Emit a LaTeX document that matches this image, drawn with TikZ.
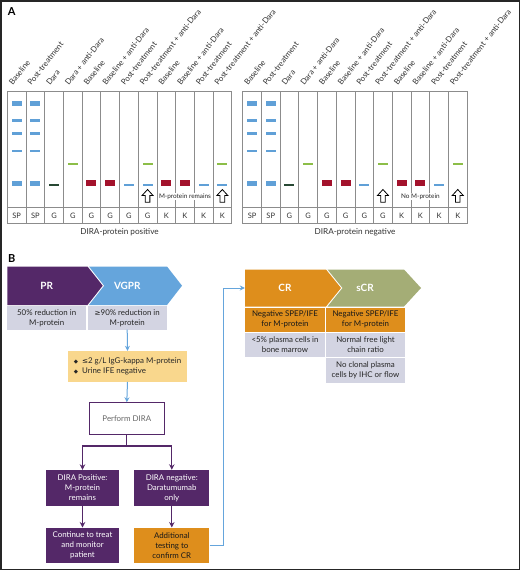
\documentclass[tikz,border=0pt]{standalone}
\usepackage{fontspec}
\setmainfont{Lato}
\newfontfamily\symf{DejaVu Sans}
\usetikzlibrary{arrows.meta}
\definecolor{dpurple}{RGB}{84,40,104}
\definecolor{vblue}{RGB}{101,165,220}
\definecolor{bandblue}{RGB}{96,160,215}
\definecolor{orng}{RGB}{222,142,28}
\definecolor{sgreen}{RGB}{164,173,118}
\definecolor{lgray}{RGB}{211,212,226}
\definecolor{lyellow}{RGB}{249,215,141}
\definecolor{bred}{RGB}{163,18,44}
\definecolor{bgreen}{RGB}{140,190,72}
\definecolor{dgreen}{RGB}{40,72,52}
\newcommand\gband[4]{\fill[#3] ({#1-5},{#2-#4/2}) rectangle ++(10,#4);}
\newcommand\harrow[1]{\draw[black,line width=0.8pt,fill=white,line join=miter] ({#1},189.5) -- ++(5.5,6) -- ++(-3.2,0) -- ++(0,6.8) -- ++(-4.6,0) -- ++(0,-6.8) -- ++(-3.2,0) -- cycle;}
\tikzset{
 gelline/.style={draw=black!45, line width=0.8pt},
 collab/.style={anchor=base west, rotate=52, inner sep=0pt, font=\fontsize{7.9}{10}\selectfont, text=black!80},
 rowlab/.style={inner sep=0pt, font=\fontsize{7.5}{9}\selectfont, text=black!80},
 sublab/.style={inner sep=0pt, font=\fontsize{8.2}{10}\selectfont, text=black!80},
 panlab/.style={inner sep=0pt, font=\fontsize{11}{12}\selectfont\bfseries},
 chev/.style={text=white, font=\fontsize{10}{12}\selectfont\bfseries, inner sep=0pt},
 fbox/.style={align=center, inner sep=1pt, font=\fontsize{7.9}{10}\selectfont},
 graybox/.style={fbox, fill=lgray, text=black!85},
 orbox/.style={fbox, fill=orng, text=black!90},
 purbox/.style={fbox, fill=dpurple, text=white},
 minilab/.style={inner sep=0.6pt, fill=white, font=\fontsize{6.4}{7}\selectfont, text=black!85},
 blueline/.style={draw=vblue, line width=1pt, -{Stealth[length=5pt,width=5pt]}},
 purline/.style={draw=dpurple, line width=1.3pt, -{Stealth[length=5.5pt,width=5.5pt]}},
 plainpur/.style={draw=dpurple, line width=1.3pt},
}
\begin{document}
\begin{tikzpicture}[x=1pt,y=-1pt]
\useasboundingbox (0,0) rectangle (520,570);
\fill[white] (0,0) rectangle (520,570);
\draw[black!85, line width=1.5pt] (0.75,0.75) rectangle (519.25,569.25);
\node[panlab] (la) at (11.7,11.7) {A};
\node[panlab] (lb) at (11.7,258.3) {B};
% ---------- gels ----------
\foreach \bx/\nm in {7.3/p, 242.7/n} {
  \draw[gelline] (\bx,91) rectangle ++(224.4,132.3);
  \draw[gelline] (\bx,207.7) -- ++(224.4,0);
  \foreach \i in {1,...,11} {\draw[gelline] ({\bx+\i*18.7},91) -- ++(0,132.3);}
  \foreach \i/\t/\l in {1/Baseline/SP, 2/Post-treatment/SP, 3/Dara/G, 4/Dara + anti-Dara/G, 5/Baseline/G, 6/Baseline + anti-Dara/G, 7/Post-treatment/G, 8/Post-treatment + anti-Dara/G, 9/Baseline/K, 10/Baseline + anti-Dara/K, 11/Post-treatment/K, 12/Post-treatment + anti-Dara/K} {
    \node[collab] (t\nm\i) at ({\bx+(\i-0.5)*18.7-4},86) {\t};
    \node[rowlab] (r\nm\i) at ({\bx+(\i-0.5)*18.7},215.5) {\l};
  }
  \foreach \i in {1,2} {
    \gband{\bx+(\i-0.5)*18.7}{103.3}{bandblue}{5.6}
    \gband{\bx+(\i-0.5)*18.7}{120.5}{bandblue}{2.3}
    \gband{\bx+(\i-0.5)*18.7}{133.4}{bandblue}{2.3}
    \gband{\bx+(\i-0.5)*18.7}{150.7}{bandblue}{2.3}
    \gband{\bx+(\i-0.5)*18.7}{183.3}{bandblue}{5.6}
  }
  \gband{\bx+2.5*18.7}{184.8}{dgreen}{2.3}
  \foreach \i in {4,8,12} {\gband{\bx+(\i-0.5)*18.7}{164.2}{bgreen}{2.3}}
  \foreach \i in {5,6,9,10} {\gband{\bx+(\i-0.5)*18.7}{183.3}{bred}{6.3}}
  \foreach \i in {7,11} {\gband{\bx+(\i-0.5)*18.7}{184.8}{bandblue}{2.3}}
  \harrow{\bx+7.5*18.7}
  \harrow{\bx+11.5*18.7}
}
\gband{7.3+7.5*18.7}{184.8}{bandblue}{2.3}
\gband{7.3+11.5*18.7}{184.8}{bandblue}{2.3}
\node[minilab] (mrem) at (185,196.7) {M-protein remains};
\node[minilab] (nomp) at (420.4,196.7) {No M-protein};
\node[sublab] (subp) at (119.5,232.3) {DIRA-protein positive};
\node[sublab] (subn) at (355,232.3) {DIRA-protein negative};
% ---------- chevrons ----------
\fill[vblue] (89,266.5) -- (167,266.5) -- (182,285.7) -- (167,305) -- (89,305) -- (104.2,285.7) -- cycle;
\fill[dpurple] (7.3,266.5) -- (87.5,266.5) -- (102.7,285.7) -- (87.5,305) -- (7.3,305) -- cycle;
\fill[sgreen] (327.5,269.5) -- (404,269.5) -- (421,288) -- (404,306.5) -- (327.5,306.5) -- (342.5,288) -- cycle;
\fill[orng] (245,269.5) -- (326,269.5) -- (341,288) -- (326,306.5) -- (245,306.5) -- cycle;
\node[chev] (pr) at (46.7,285.7) {PR};
\node[chev] (vgpr) at (127.3,285.7) {VGPR};
\node[chev, minimum width=80pt, minimum height=37pt] (cr) at (285,288) {CR};
\node[chev] (scr) at (365,288) {sCR};
% ---------- boxes ----------
\node[graybox, minimum width=78.7pt, minimum height=23.3pt] (g1) at (46.65,317.85) {50\% reduction in\\M-protein};
\node[graybox, minimum width=79pt, minimum height=23.3pt] (g2) at (127.2,317.85) {{\symf\fontsize{7.2}{9}\selectfont ≥}90\% reduction in\\M-protein};
\node[orbox, minimum width=80pt, minimum height=24.2pt] (o1) at (285,319.6) {Negative SPEP/IFE\\for M-protein};
\node[orbox, minimum width=79pt, minimum height=24.2pt] (o2) at (365.5,319.6) {Negative SPEP/IFE\\for M-protein};
\node[graybox, minimum width=80pt, minimum height=23.7pt] (g3) at (285,344.85) {<5\% plasma cells in\\bone marrow};
\node[graybox, minimum width=79pt, minimum height=23.7pt] (g4) at (365.5,344.85) {Normal free light\\chain ratio};
\node[graybox, minimum width=79pt, minimum height=24.4pt] (g5) at (365.5,370.5) {No clonal plasma\\cells by IHC or flow};
\node[fbox, fill=lyellow, text=black!85, align=left, minimum width=118.4pt, minimum height=30.7pt] (yel) at (127.5,366.35) {{\symf\fontsize{5.5}{9}\selectfont ◆}\hspace{4pt}{\symf\fontsize{7.2}{9}\selectfont ≤}2 g/L IgG-kappa M-protein\\{\symf\fontsize{5.5}{9}\selectfont ◆}\hspace{4pt}Urine IFE negative};
\node[fbox, draw=dpurple, line width=0.9pt, fill=white, text=black!60, minimum width=75pt, minimum height=31.3pt] (dira) at (126.8,418.35) {Perform DIRA};
\node[purbox, minimum width=73.6pt, minimum height=36pt] (pos) at (82.5,488) {DIRA Positive:\\M-protein\\remains};
\node[purbox, minimum width=75pt, minimum height=36pt] (neg) at (171.8,488) {DIRA negative:\\Daratumumab\\only};
\node[purbox, minimum width=73.6pt, minimum height=35pt] (cont) at (82.5,545.2) {Continue to treat\\and monitor\\patient};
\node[orbox, minimum width=75pt, minimum height=35pt] (addl) at (171.8,545.2) {Additional\\testing to\\confirm CR};
% ---------- connectors ----------
\draw[blueline] (g2.south) -- (yel.north);
\draw[blueline] (yel.south) -- (dira.north);
\draw[plainpur] (dira.south) -- ++(0,11.4) coordinate (split);
\draw[purline] (split) -| (pos.north);
\draw[purline] (split) -| (neg.north);
\draw[purline] (pos.south) -- (cont.north);
\draw[purline] (neg.south) -- (addl.north);
\draw[blueline] (addl.east) -- ++(14,0) |- (cr.west);
\end{tikzpicture}
\end{document}
